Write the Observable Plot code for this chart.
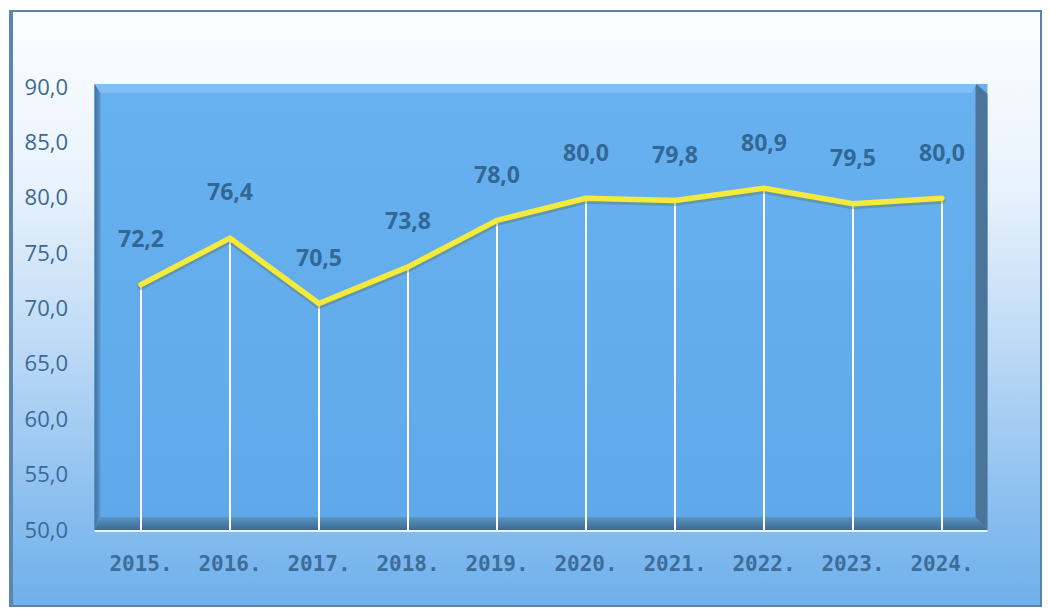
<!DOCTYPE html>
<html><head><meta charset="utf-8">
<script src="https://cdn.jsdelivr.net/npm/d3@7"></script>
<script src="https://cdn.jsdelivr.net/npm/@observablehq/plot@0.6"></script>
<style>html,body{margin:0;padding:0;background:#ffffff;} #chart svg{display:block;}</style>
</head><body><div id="chart"></div>
<script>
const years = ["2015.","2016.","2017.","2018.","2019.","2020.","2021.","2022.","2023.","2024."];
const values = [72.2, 76.4, 70.5, 73.8, 78.0, 80.0, 79.8, 80.9, 79.5, 80.0];
const yTicks = [50, 55, 60, 65, 70, 75, 80, 85, 90];
const data = years.map((year, i) => ({year, value: values[i]}));
const fmt = d => d.toFixed(1).replace(".", ",");

const W = 1049, H = 612;
const background = (index, scales, values, dims) => {
  const ns = "http://www.w3.org/2000/svg";
  const g = document.createElementNS(ns, "g");
  const x0 = dims.marginLeft, x1 = dims.width - dims.marginRight;
  const y0 = dims.marginTop - 3, y1 = dims.height - dims.marginBottom;
  g.innerHTML = `
    <defs>
      <linearGradient id="outerG" x1="0" y1="0" x2="0" y2="1">
        <stop offset="0" stop-color="#fdfeff"/>
        <stop offset="0.3" stop-color="#e8f2fc"/>
        <stop offset="0.55" stop-color="#bfdbf6"/>
        <stop offset="0.8" stop-color="#90c2f0"/>
        <stop offset="1" stop-color="#6eb0ec"/>
      </linearGradient>
      <linearGradient id="innerG" x1="0" y1="0" x2="0" y2="1">
        <stop offset="0" stop-color="#68b1f0"/>
        <stop offset="1" stop-color="#5fa9ea"/>
      </linearGradient>
      <linearGradient id="botG" x1="0" y1="0" x2="0" y2="1">
        <stop offset="0" stop-color="#5b95c6"/>
        <stop offset="1" stop-color="#3b6a90"/>
      </linearGradient>
      <linearGradient id="leftG" x1="0" y1="0" x2="1" y2="0">
        <stop offset="0" stop-color="#3f729c"/>
        <stop offset="1" stop-color="#5b9ad0"/>
      </linearGradient>
    </defs>
    <rect x="10" y="11" width="1031" height="595" fill="url(#outerG)" stroke="#5a83a8" stroke-width="2"/>
    <rect x="9" y="11" width="4" height="595" fill="#5b86b0"/>
    <rect x="${x0}" y="${y0}" width="${x1-x0}" height="${y1-y0}" fill="url(#innerG)"/>
    <polygon points="${x0},${y0} ${x1-11},${y0} ${x1-16},${y0+9} ${x0+6},${y0+9}" fill="#88c4f4" opacity="0.75"/>
    <polygon points="${x0},${y0} ${x0+6},${y0+9} ${x0+6},${y1-13} ${x0},${y1}" fill="url(#leftG)"/>
    <polygon points="${x0},${y1} ${x0+6},${y1-13} ${x1-12},${y1-13} ${x1},${y1}" fill="url(#botG)"/>
    <polygon points="${x1-11},${y0} ${x1},${y0+10} ${x1},${y1} ${x1-12},${y1-13} ${x1-12},${y0+3}" fill="#4a7598"/>
    <line x1="${x0}" x2="${x1}" y1="${y1+1}" y2="${y1+1}" stroke="#e6f3ff" stroke-width="2"/>
  `;
  return g;
};

const chart = Plot.plot({
  width: W, height: H,
  marginLeft: 94.5, marginRight: 61.5, marginTop: 87, marginBottom: 82,
  style: {background: "transparent", overflow: "visible"},
  x: {type: "band", domain: years, padding: 0, label: null},
  y: {domain: [50, 90], label: null},
  marks: [
    background,
    Plot.ruleX(data, {x: "year", y1: 50, y2: "value", stroke: "#ffffff", strokeWidth: 2}),
    Plot.line(data, {x: "year", y: "value", stroke: "#5a6a40", strokeWidth: 7, strokeOpacity: 0.35, dy: 2, strokeLinejoin: "round"}),
    Plot.line(data, {x: "year", y: "value", stroke: "#f4ea3c", strokeWidth: 5.5, strokeLinejoin: "round"}),
    Plot.text(data, {x: "year", y: "value", text: d => fmt(d.value), dy: -45, fill: "#326895",
      fontSize: 23, fontWeight: "bold", fontFamily: "'Open Sans', 'DejaVu Sans', sans-serif"}),
    Plot.axisY({ticks: yTicks, tickSize: 0, tickPadding: 27, tickFormat: fmt, fill: "#3b6a96",
      fontSize: 22, fontWeight: 500, fontFamily: "'Open Sans', 'DejaVu Sans', sans-serif", textAnchor: "end", label: null}),
    Plot.axisX({tickSize: 0, tickPadding: 26, fill: "#3d6d99", fontSize: 21, fontWeight: "bold",
      fontFamily: "'DejaVu Sans Mono', monospace", label: null})
  ]
});
document.getElementById("chart").appendChild(chart);
</script>
</body></html>
